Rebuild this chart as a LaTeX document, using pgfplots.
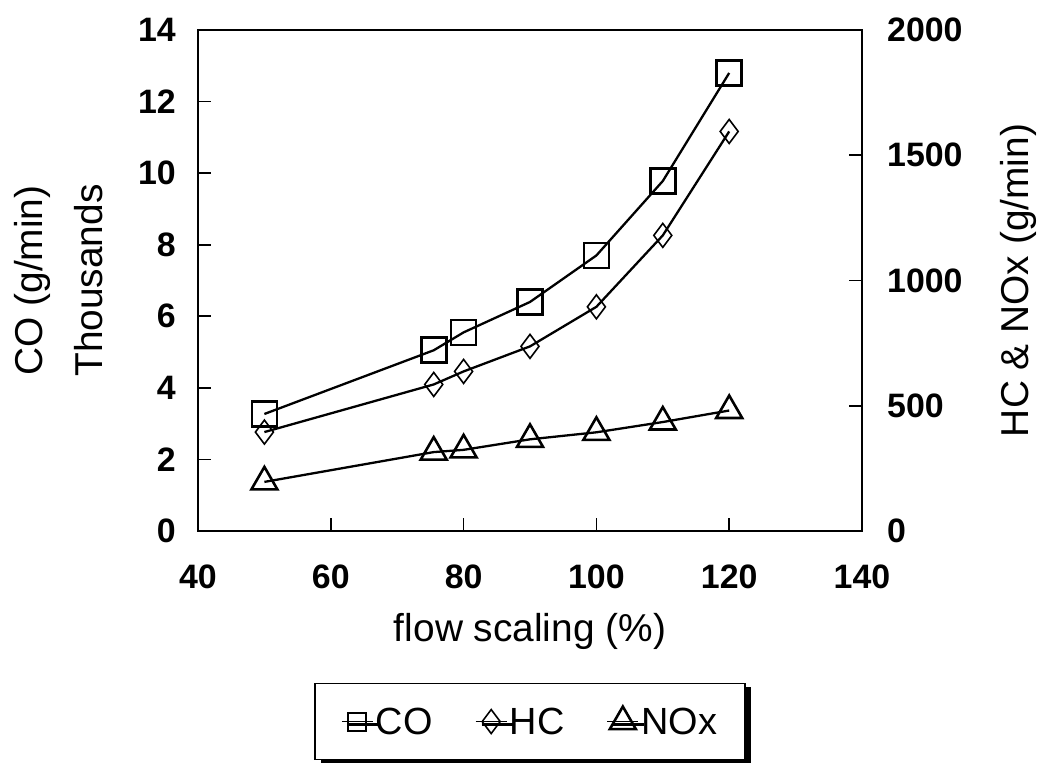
\documentclass[border=0pt]{standalone}
\usepackage{fontspec}
\setmainfont{Liberation Sans}
\usepackage{pgfplots}
\pgfplotsset{compat=1.18}
\usetikzlibrary{shadows}

\pgfplotstableread{
x co
50 3.27
75.5 5.05
80 5.55
90 6.40
100 7.70
110 9.78
120 12.80
}\codata
\pgfplotstableread{
x hc nox
50 395 196
75.5 585 315
80 637 324
90 737 366
100 895 394
110 1180 435
120 1595 481
}\hcdata

\begin{document}
\begin{tikzpicture}
\path[use as bounding box] (-198bp,-235bp) rectangle (843bp,531bp);
\pgfplotsset{
  common/.style={
    scale only axis, width=664bp, height=501bp,
    xmin=40, xmax=140,
    tick align=inside, major tick length=13bp,
    axis line style={line width=1.8pt},
    every tick/.style={line width=1.8pt, black},
    /pgf/number format/assume math mode=true,
    /pgf/number format/1000 sep={},
    tick label style={font=\fontsize{34}{40}\selectfont\bfseries},
    label style={font=\fontsize{39}{60}\selectfont},
  },
  ser/.style={black, line width=2.3pt},
}
\begin{axis}[common,
  ymin=0, ymax=14,
  xtick={40,60,...,140}, ytick={0,2,...,14},
  xtick pos=bottom, ytick pos=left,
  xticklabel style={inner sep=0pt, yshift=-34bp},
  yticklabel style={inner sep=0pt, xshift=-22bp},
  xlabel={flow scaling (\%)},
  xlabel style={at={(axis description cs:0.5,-0.2)}, anchor=center},
  ylabel={CO (g/min)\\Thousands},
  ylabel style={align=center, at={(axis description cs:-0.21,0.5)}, anchor=center},
]
\addplot[ser, mark=square, mark size=12.5bp, mark options={line width=2.6pt}] table[x=x, y=co] {\codata};
\end{axis}
\begin{axis}[common,
  ymin=0, ymax=2000,
  axis y line*=right, axis x line=none,
  ytick={0,500,...,2000},
  yticklabel style={inner sep=0pt, xshift=25bp},
  ylabel={HC \& NOx (g/min)},
  ylabel style={at={(axis description cs:1.235,0.5)}, anchor=center},
  legend columns=3,
  legend style={at={(axis description cs:0.5,-0.303)}, anchor=north,
    draw=black, line width=1.6pt, fill=white,
    drop shadow={shadow xshift=6bp, shadow yshift=-3bp, fill=black, opacity=1},
    font=\fontsize{38}{44}\selectfont,
    inner xsep=26bp, inner ysep=22bp,
    /tikz/every even column/.append style={column sep=40bp}},
  legend image code/.code={\draw[mark repeat=2,mark phase=2, line width=1.8pt] plot coordinates {(0cm,0cm) (0.55cm,0cm) (1.1cm,0cm)};},
]
\addlegendimage{ser, mark=square, mark size=9bp, mark options={line width=2pt}}
\addlegendentry{CO}
\addplot[ser, mark=diamond, mark size=12bp, mark options={line width=1.6pt}] table[x=x, y=hc] {\hcdata};
\addlegendentry{HC}
\addplot[ser, mark=triangle, mark size=15bp, mark options={line width=2.6pt}] table[x=x, y=nox] {\hcdata};
\addlegendentry{NOx}
\end{axis}
\end{tikzpicture}
\end{document}
